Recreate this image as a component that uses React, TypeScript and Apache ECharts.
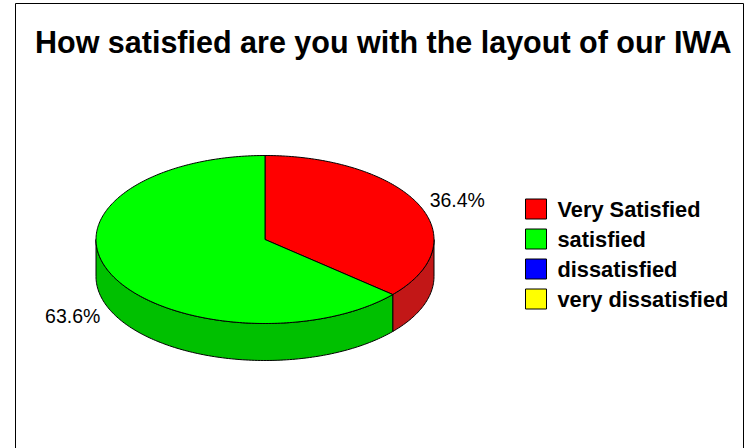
import React, { useEffect, useRef } from "react";
import * as echarts from "echarts";

const chartTitle = "How satisfied are you with the layout of our IWA";
const categories = ["Very Satisfied", "satisfied", "dissatisfied", "very dissatisfied"];
const values = [4, 7, 0, 0];
const topColors = ["#FF0000", "#00FF00", "#0000FF", "#FFFF00"];
const sideColors = ["#C21717", "#00C000", "#0000C0", "#C0C000"];

const FONT = '"Liberation Sans", Arial, sans-serif';
const CX = 265;
const CY = 239.5;
const RX = 169;
const RY = 84;
const DEPTH = 37;
const LABEL_DX = 12;
const LABEL_DY = 10;

function arcPoints(t0: number, t1: number, dy: number): number[][] {
  const n = Math.max(2, Math.ceil(Math.abs(t1 - t0) / (Math.PI / 180)));
  const pts: number[][] = [];
  for (let i = 0; i <= n; i++) {
    const t = t0 + ((t1 - t0) * i) / n;
    pts.push([CX + RX * Math.cos(t), CY + RY * Math.sin(t) + dy]);
  }
  return pts;
}

function makeRender(idx: number) {
  return (params: any, api: any) => {
    const v = api.value(0) as number;
    const total = values.reduce((s, x) => s + x, 0);
    if (!v || !total) return { type: "group", children: [] };
    const before = values.slice(0, idx).reduce((s, x) => s + x, 0);
    const a = -Math.PI / 2 + (before / total) * Math.PI * 2;
    const b = a + (v / total) * Math.PI * 2;
    const children: any[] = [];
    // visible side wall: front half [0, PI]
    const lo = Math.max(a, 0);
    const hi = Math.min(b, Math.PI);
    if (hi > lo) {
      const top = arcPoints(lo, hi, 0);
      const bottom = arcPoints(hi, lo, DEPTH);
      children.push({
        type: "polygon",
        z2: 1,
        shape: { points: top.concat(bottom) },
        style: { fill: sideColors[idx], stroke: "#000", lineWidth: 1 },
      });
    }
    // top face
    children.push({
      type: "polygon",
      z2: 10,
      shape: { points: [[CX, CY]].concat(arcPoints(a, b, 0)) },
      style: { fill: topColors[idx], stroke: "#000", lineWidth: 1, lineJoin: "round" },
    });
    // label
    const m = (a + b) / 2;
    const c = Math.cos(m);
    const s = Math.sin(m);
    const lx = CX + (RX + LABEL_DX) * c;
    const ly = CY + (RY + LABEL_DY) * s + (s > 0 ? DEPTH : 0);
    children.push({
      type: "text",
      z2: 20,
      x: lx,
      y: ly,
      style: {
        text: ((v / total) * 100).toFixed(1) + "%",
        align: c >= 0 ? "left" : "right",
        verticalAlign: "middle",
        fontSize: 19.5,
        fontFamily: FONT,
        fill: "#000",
      },
    });
    return { type: "group", children };
  };
}

export default function App() {
  const ref = useRef<HTMLDivElement>(null);
  useEffect(() => {
    if (!ref.current) return;
    const chart = echarts.init(ref.current, undefined, { renderer: "svg" });
    chart.setOption({
      animation: false,
      backgroundColor: "#fff",
      title: {
        text: chartTitle,
        left: 35,
        top: 26,
        padding: 0,
        textStyle: { fontSize: 30.5, fontWeight: "bold", fontFamily: FONT, color: "#000" },
      },
      legend: {
        orient: "vertical",
        left: 525,
        top: 198,
        padding: 0,
        itemGap: 8,
        itemWidth: 21,
        itemHeight: 20,
        icon: "rect",
        selectedMode: false,
        data: categories,
        itemStyle: { borderColor: "#000", borderWidth: 1 },
        textStyle: {
          fontSize: 21.8,
          fontWeight: "bold",
          fontFamily: FONT,
          color: "#000",
          lineHeight: 20,
          padding: [0, 0, 0, 6],
        },
      },
      graphic: [
        {
          type: "rect",
          silent: true,
          z: -1,
          shape: { x: 15.5, y: 3.5, width: 728, height: 520 },
          style: { fill: "none", stroke: "#000", lineWidth: 1 },
        },
      ],
      series: categories.map((name, i) => ({
        type: "custom",
        name,
        coordinateSystem: "none",
        data: [values[i]],
        itemStyle: { color: topColors[i] },
        renderItem: makeRender(i),
      })),
    });
    return () => chart.dispose();
  }, []);
  return (
    <div
      ref={ref}
      style={{ position: "fixed", left: 0, top: 0, width: 745, height: 448, background: "#fff" }}
    />
  );
}
